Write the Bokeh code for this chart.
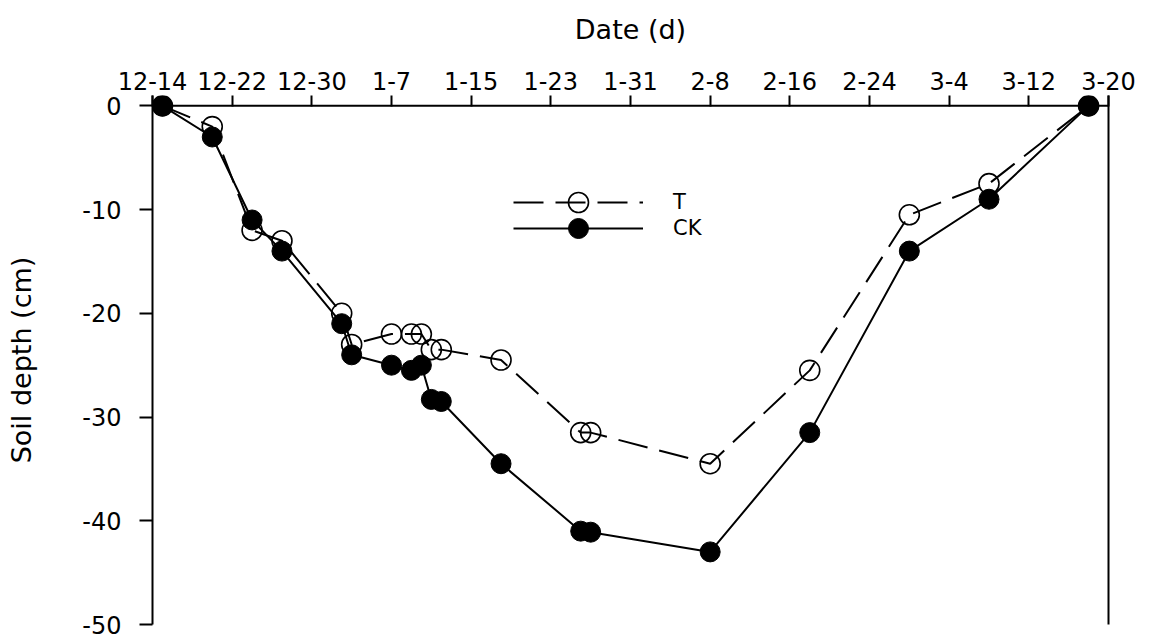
from bokeh.plotting import figure
from bokeh.models import Range1d, LinearAxis, FixedTicker, Legend, LegendItem, Span
from bokeh.embed import file_html
from bokeh.resources import INLINE

# days counted from 12-14
days_T = [1, 6, 10, 13, 19, 20, 24, 26, 27, 28, 29, 35, 43, 44, 56, 66, 76, 84, 94]
depth_T = [0, -2, -12, -13, -20, -23, -22, -22, -22, -23.5, -23.5, -24.5, -31.5, -31.5, -34.5, -25.5, -10.5, -7.5, 0]
days_CK = [1, 6, 10, 13, 19, 20, 24, 26, 27, 28, 29, 35, 43, 44, 56, 66, 76, 84, 94]
depth_CK = [0, -3, -11, -14, -21, -24, -25, -25.5, -25, -28.3, -28.5, -34.5, -41, -41.1, -43, -31.5, -14, -9, 0]

tick_days = [0, 8, 16, 24, 32, 40, 48, 56, 64, 72, 80, 88, 96]
tick_labels = ["12-14", "12-22", "12-30", "1-7", "1-15", "1-23", "1-31",
               "2-8", "2-16", "2-24", "3-4", "3-12", "3-20"]
depth_ticks = [0, -10, -20, -30, -40, -50]
depth_labels = ["0", "-10", "-20", "-30", "-40", "-50"]

FONT = "DejaVu Sans"
TICK_FS = "24px"
TITLE_FS = "27px"

p = figure(width=1155, height=639, output_backend="svg", toolbar_location=None,
           x_axis_location="above",
           x_range=Range1d(0, 96), y_range=Range1d(-50, 1.0),
           min_border_left=152, min_border_right=47, min_border_top=95, min_border_bottom=15)
p.background_fill_color = "white"
p.border_fill_color = "white"
p.outline_line_color = None
p.xgrid.visible = False
p.ygrid.visible = False

xa = p.xaxis[0]
xa.ticker = FixedTicker(ticks=tick_days)
xa.major_label_overrides = {d: lab for d, lab in zip(tick_days, tick_labels)}
xa.major_tick_in = 11
xa.major_tick_out = 0
xa.minor_tick_in = 0
xa.minor_tick_out = 0
xa.major_tick_line_width = 2
xa.axis_line_alpha = 0
xa.major_label_standoff = 6
xa.major_label_text_font = FONT
xa.major_label_text_font_size = TICK_FS
xa.major_label_text_color = "black"
xa.axis_label = "Date (d)"
xa.axis_label_text_font = FONT
xa.axis_label_text_font_size = TITLE_FS
xa.axis_label_text_font_style = "normal"
xa.axis_label_text_color = "black"
xa.axis_label_standoff = 24

ya = p.yaxis[0]
ya.ticker = FixedTicker(ticks=depth_ticks)
ya.major_label_overrides = {d: lab for d, lab in zip(depth_ticks, depth_labels)}
ya.major_tick_in = 0
ya.major_tick_out = 13
ya.minor_tick_in = 0
ya.minor_tick_out = 0
ya.major_tick_line_width = 2
ya.axis_line_width = 2
ya.major_label_standoff = 18
ya.major_label_text_font = FONT
ya.major_label_text_font_size = TICK_FS
ya.major_label_text_color = "black"
ya.axis_label = "Soil depth (cm)"
ya.axis_label_text_font = FONT
ya.axis_label_text_font_size = TITLE_FS
ya.axis_label_text_font_style = "normal"
ya.axis_label_text_color = "black"
ya.axis_label_standoff = 42

right = LinearAxis(ticker=FixedTicker(ticks=[]), major_tick_in=0, major_tick_out=0,
                   minor_tick_in=0, minor_tick_out=0, axis_line_width=2,
                   major_label_text_alpha=0)
p.add_layout(right, "right")

# top axis line at depth 0
p.add_layout(Span(location=0, dimension="width", line_color="black", line_width=2))

rT_line = p.line(days_T, depth_T, line_color="black", line_width=2, line_dash="30 12")
rT_pts = p.scatter(days_T, depth_T, marker="circle", size=20, fill_color=None,
                   line_color="black", line_width=1.6)
rCK_line = p.line(days_CK, depth_CK, line_color="black", line_width=2)
rCK_pts = p.scatter(days_CK, depth_CK, marker="circle", size=20, fill_color="black",
                    line_color="black", line_width=1.0)

common = dict(glyph_width=130, glyph_height=50, label_height=50, padding=0, margin=0,
              spacing=0, label_standoff=30, label_text_font=FONT,
              label_text_font_size="21px", label_text_color="black",
              background_fill_alpha=0, border_line_color=None)
leg_T = Legend(items=[LegendItem(label="T", renderers=[rT_line, rT_pts])],
               location=(361, 397), **common)
leg_CK = Legend(items=[LegendItem(label="CK", renderers=[rCK_line, rCK_pts])],
                location=(361, 371), **common)
p.add_layout(leg_T)
p.add_layout(leg_CK)

open("out.html", "w").write(file_html(p, INLINE))
